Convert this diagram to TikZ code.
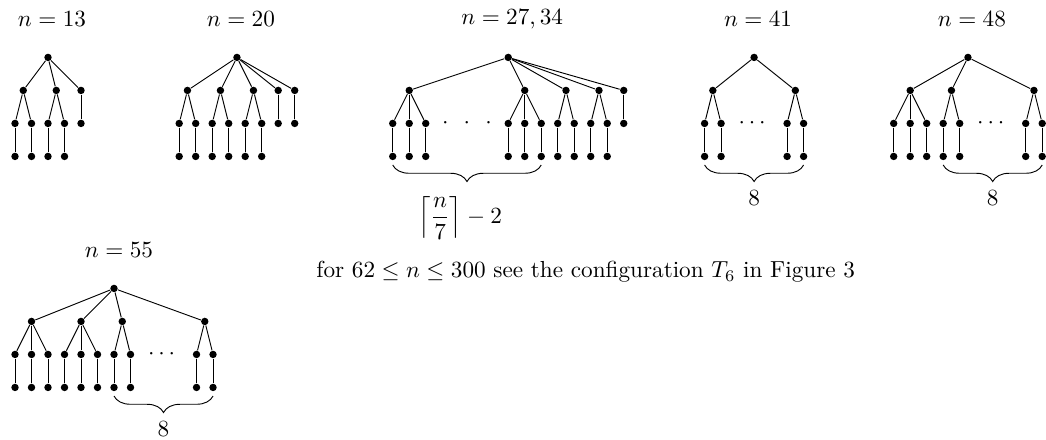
\documentclass[tikz,border=0pt]{standalone}
\usepackage{amsmath,amssymb}
\usepackage{tikz}
\usetikzlibrary{decorations.pathreplacing}

\begin{document}
\begin{tikzpicture}[x=0.25cm, y=0.5cm,
  vtx/.style={circle, fill, inner sep=0pt, minimum size=3.2pt},
  brc/.style={decorate, decoration={brace, mirror, amplitude=0.25cm}}
]
  \useasboundingbox (0,0) rectangle (63.39,-13.33);

  % n = 13
  \begin{scope}[shift={(0.91,-1.74)}]
    \node (lA) at (2.24,1.16) {$n=13$};
    \node[vtx] (A) at (2,0) {};
    \node[vtx] (A1) at (0.5,-1) {};
    \node[vtx] (A2) at (2.5,-1) {};
    \node[vtx] (A3) at (4,-1) {};
    \foreach \k in {0,...,3}
      {\node[vtx] (A-\k-2) at (\k,-2) {}; \node[vtx] (A-\k-3) at (\k,-3) {}; \draw (A-\k-2) -- (A-\k-3);}
    \node[vtx] (A-4-2) at (4,-2) {};
    \foreach \p in {A1,A2,A3} \draw (A) -- (\p);
    \foreach \p/\k in {A1/0,A1/1,A2/2,A2/3,A3/4} \draw (\p) -- (A-\k-2);
  \end{scope}

  % n = 20
  \begin{scope}[shift={(10.86,-1.74)}]
    \node (lB) at (3.74,1.16) {$n=20$};
    \node[vtx] (B) at (3.5,0) {};
    \node[vtx] (B1) at (0.5,-1) {};
    \node[vtx] (B2) at (2.5,-1) {};
    \node[vtx] (B3) at (4.5,-1) {};
    \node[vtx] (B4) at (6,-1) {};
    \node[vtx] (B5) at (7,-1) {};
    \foreach \k in {0,...,5}
      {\node[vtx] (B-\k-2) at (\k,-2) {}; \node[vtx] (B-\k-3) at (\k,-3) {}; \draw (B-\k-2) -- (B-\k-3);}
    \node[vtx] (B-6-2) at (6,-2) {};
    \node[vtx] (B-7-2) at (7,-2) {};
    \foreach \p in {B1,B2,B3,B4,B5} \draw (B) -- (\p);
    \foreach \p/\k in {B1/0,B1/1,B2/2,B2/3,B3/4,B3/5,B4/6,B5/7} \draw (\p) -- (B-\k-2);
  \end{scope}

  % n = 27, 34
  \begin{scope}[shift={(23.8,-1.74)}]
    \node (lC) at (7.24,1.16) {$n=27,34$};
    \node[vtx] (C) at (7,0) {};
    \node[vtx] (C1) at (1,-1) {};
    \node[vtx] (C2) at (8,-1) {};
    \node[vtx] (C3) at (10.5,-1) {};
    \node[vtx] (C4) at (12.5,-1) {};
    \node[vtx] (C5) at (14,-1) {};
    \foreach \k in {0,1,2,7,8,9,10,11,12,13}
      {\node[vtx] (C-\k-2) at (\k,-2) {}; \node[vtx] (C-\k-3) at (\k,-3) {}; \draw (C-\k-2) -- (C-\k-3);}
    \node[vtx] (C-14-2) at (14,-2) {};
    \node (dC) at (4.5,-2) {$\cdot\hskip4.3pt\cdot\hskip4.3pt\cdot$};
    \foreach \p in {C1,C2,C3,C4,C5} \draw (C) -- (\p);
    \foreach \p/\k in {C1/0,C1/1,C1/2,C2/7,C2/8,C2/9,C3/10,C3/11,C4/12,C4/13,C5/14} \draw (\p) -- (C-\k-2);
    \draw[brc] ([yshift=-0.13cm]C-0-3.center) -- ([yshift=-0.13cm]C-9-3.center);
    \node (bC) at (4.08,-4.87) {$\left\lceil\dfrac{n}{7}\right\rceil-2$};
  \end{scope}

  % n = 41
  \begin{scope}[shift={(42.7,-1.74)}]
    \node (lD) at (3.24,1.16) {$n=41$};
    \node[vtx] (D) at (3,0) {};
    \node[vtx] (D1) at (0.5,-1) {};
    \node[vtx] (D2) at (5.5,-1) {};
    \foreach \k in {0,1,5,6}
      {\node[vtx] (D-\k-2) at (\k,-2) {}; \node[vtx] (D-\k-3) at (\k,-3) {}; \draw (D-\k-2) -- (D-\k-3);}
    \node (dD) at (3,-2) {$\cdots$};
    \foreach \p in {D1,D2} \draw (D) -- (\p);
    \foreach \p/\k in {D1/0,D1/1,D2/5,D2/6} \draw (\p) -- (D-\k-2);
    \draw[brc] ([yshift=-0.13cm]D-0-3.center) -- ([yshift=-0.13cm]D-6-3.center);
    \node (bD) at (3,-4.26) {$8$};
  \end{scope}

  % n = 48
  \begin{scope}[shift={(54.16,-1.74)}]
    \node (lE) at (4.74,1.16) {$n=48$};
    \node[vtx] (E) at (4.5,0) {};
    \node[vtx] (E1) at (1,-1) {};
    \node[vtx] (E2) at (3.5,-1) {};
    \node[vtx] (E3) at (8.5,-1) {};
    \foreach \k in {0,1,2,3,4,8,9}
      {\node[vtx] (E-\k-2) at (\k,-2) {}; \node[vtx] (E-\k-3) at (\k,-3) {}; \draw (E-\k-2) -- (E-\k-3);}
    \node (dE) at (6,-2) {$\cdots$};
    \foreach \p in {E1,E2,E3} \draw (E) -- (\p);
    \foreach \p/\k in {E1/0,E1/1,E1/2,E2/3,E2/4,E3/8,E3/9} \draw (\p) -- (E-\k-2);
    \draw[brc] ([yshift=-0.13cm]E-3-3.center) -- ([yshift=-0.13cm]E-9-3.center);
    \node (bE) at (6,-4.26) {$8$};
  \end{scope}

  % n = 55
  \begin{scope}[shift={(0.91,-8.74)}]
    \node (lF) at (6.3,1.16) {$n=55$};
    \node[vtx] (F) at (6,0) {};
    \node[vtx] (F1) at (1,-1) {};
    \node[vtx] (F2) at (4,-1) {};
    \node[vtx] (F3) at (6.5,-1) {};
    \node[vtx] (F4) at (11.5,-1) {};
    \foreach \k in {0,...,7,11,12}
      {\node[vtx] (F-\k-2) at (\k,-2) {}; \node[vtx] (F-\k-3) at (\k,-3) {}; \draw (F-\k-2) -- (F-\k-3);}
    \node (dF) at (9,-2) {$\cdots$};
    \foreach \p in {F1,F2,F3,F4} \draw (F) -- (\p);
    \foreach \p/\k in {F1/0,F1/1,F1/2,F2/3,F2/4,F2/5,F3/6,F3/7,F4/11,F4/12} \draw (\p) -- (F-\k-2);
    \draw[brc] ([yshift=-0.13cm]F-6-3.center) -- ([yshift=-0.13cm]F-12-3.center);
    \node (bF) at (9,-4.26) {$8$};
  \end{scope}

  \node[anchor=west, inner sep=0pt] (note) at (19.15,-8.24) {for $62\le n\le 300$ see the configuration $T_6$ in Figure 3};
\end{tikzpicture}
\end{document}
